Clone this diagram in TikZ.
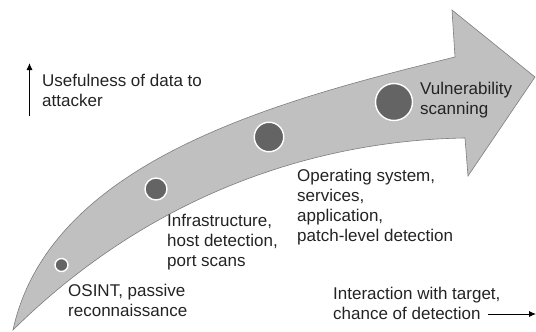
\documentclass[tikz,border=0pt]{standalone}
\usepackage{fontspec}
\setmainfont{Liberation Sans}
\usepackage{tikz}
\usetikzlibrary{arrows.meta}

\definecolor{bandgray}{RGB}{192,192,192}
\definecolor{edgegray}{RGB}{125,125,125}
\definecolor{dotgray}{RGB}{100,100,100}
\definecolor{txtgray}{RGB}{35,35,35}

\tikzset{
  dot/.style={circle,fill=dotgray,draw=white,line width=1.4pt,inner sep=0pt},
  lbl/.style={font=\fontsize{17}{20}\selectfont,text=txtgray,align=left,anchor=base west,inner sep=0pt},
  axis/.style={-{Latex[length=7pt,width=6pt]},line width=0.9pt}
}

\begin{document}
\begin{tikzpicture}[x=1pt,y=-1pt]
\useasboundingbox (0,0) rectangle (536,332);

\filldraw[fill=bandgray,draw=edgegray,line width=0.6pt]
  (13,330) .. controls (50,160) and (280,100) .. (455,57)
  -- (452,10) -- (535,77) -- (468,176) -- (465,138)
  .. controls (330,140) and (160,185) .. (13,330) -- cycle;

\node[dot,minimum size=13pt] (d1) at (61.5,265) {};
\node[dot,minimum size=22pt] (d2) at (156,189) {};
\node[dot,minimum size=29.5pt] (d3) at (269,137) {};
\node[dot,minimum size=37pt] (d4) at (394,102) {};

% anchor is the baseline of the last line
\node[lbl] (useful) at (42,106) {Usefulness of data to\\attacker};
\node[lbl] (vuln) at (420,114) {Vulnerability\\scanning};
\node[lbl] (os) at (297,241) {Operating system,\\services,\\application,\\patch-level detection};
\node[lbl] (infra) at (167,266) {Infrastructure,\\host detection,\\port scans};
\node[lbl] (osint) at (68,316) {OSINT, passive\\reconnaissance};
\node[lbl] (inter) at (333,319) {Interaction with target,\\chance of detection};

\coordinate (ylo) at (29.5,116);
\coordinate (yhi) at (29.5,63);
\coordinate (xlo) at (488,314);
\coordinate (xhi) at (536,314);
\draw[axis] (ylo) -- (yhi);
\draw[axis] (xlo) -- (xhi);
\end{tikzpicture}
\end{document}
